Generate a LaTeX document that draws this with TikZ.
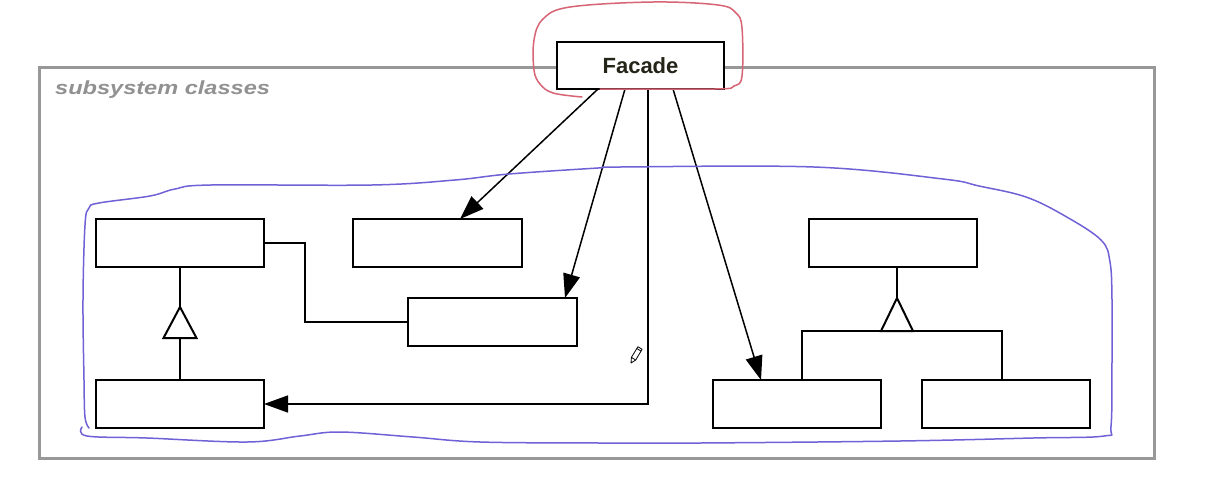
\documentclass[tikz,border=0pt]{standalone}
\usepackage{fontspec}
\setmainfont{Liberation Sans}
\usetikzlibrary{arrows.meta,calc}
\definecolor{framegray}{RGB}{152,152,152}
\definecolor{labelgray}{RGB}{145,145,145}
\definecolor{loopred}{RGB}{214,100,116}
\definecolor{loopblue}{RGB}{112,98,214}
\definecolor{facadetext}{RGB}{36,36,24}
\begin{document}
\begin{tikzpicture}[x=1pt,y=-1pt,
  cls/.style={draw=black, line width=2pt, fill=white, inner sep=0pt, outer sep=0pt,
              minimum width=168pt, minimum height=48pt},
  arr/.style={line width=1.5pt, -{Triangle[length=24pt,width=17pt]}},
  conn/.style={line width=2pt},
  ink/.style={line width=1.5pt, line cap=round, line join=round}]
\useasboundingbox (0,0) rectangle (1209,482);
\fill[white] (0,0) rectangle (1209,482);

% subsystem frame
\draw[framegray, line width=3pt] (39,67) rectangle (1154,458);
\node[anchor=base west, inner sep=0pt, text=labelgray,
      font=\fontsize{19}{19}\selectfont\bfseries\itshape] (lbl) at (55,94)
      {\scalebox{1.24}[1]{subsystem classes}};

% classes
\node[cls] (A) at (180,243) {};
\node[cls, minimum width=169pt] (B) at (437.5,243) {};
\node[cls, minimum width=169pt] (C) at (492.5,322) {};
\node[cls] (D) at (180,404) {};
\node[cls] (E) at (893,243) {};
\node[cls] (F) at (797,404) {};
\node[cls] (G) at (1006,404) {};

% association A -- C
\draw[conn] (A.east) -- ++(41,0) |- (C.west);

% generalization left
\coordinate (t1a) at ($(A.south)+(0,40)$);
\coordinate (t1b) at ($(A.south)+(0,71)$);
\draw[conn] (A.south) -- (t1a);
\draw[conn, line join=miter] (t1a) -- ++(-16.5,31) -- ++(33,0) -- cycle;
\draw[conn] (t1b) -- (D.north);

% generalization right
\coordinate (t2a) at ($(E.south)+(4,31)$);
\coordinate (t2b) at ($(E.south)+(4,64)$);
\draw[conn] ($(E.south)+(4,0)$) -- (t2a);
\draw[conn, line join=miter] (t2a) -- ++(-16,33) -- ++(32,0) -- cycle;
\draw[conn] ($(F.north)+(5,0)$) |- (t2b) -| ($(G.north)+(-4,0)$);

% facade
\node[cls, minimum width=167pt, minimum height=47pt, text=facadetext,
      font=\fontsize{22}{22}\selectfont\bfseries] (Fac) at (640.5,65.5) {Facade};

% facade arrows
\draw[arr] ($(Fac.south)+(-42.5,0)$) -- ($(B.north)+(22.5,0)$);
\draw[arr] ($(Fac.south)+(-15.5,0)$) -- ($(C.north)+(72.5,0)$);
\draw[arr] ($(Fac.south)+(32.5,0)$) -- ($(F.north)+(-36,0)$);
\draw[arr] ($(Fac.south)+(7.5,0)$) |- (D.east);

% pencil cursor
\draw[line width=0.8pt, line join=round, fill=white]
  (631,363) -- (635.7,360) -- (642.1,349.3) -- (637.9,346.7) -- (631.4,357.4) -- cycle;
\draw[line width=0.8pt] (635.7,360) -- (631.4,357.4);
\draw[line width=0.8pt] (641,351.1) -- (636.8,348.5);

% blue hand-drawn loop
\draw[loopblue, ink] plot[smooth, tension=0.6] coordinates {
  (82,427) (87,436) (147,438) (247,442) (300,436) (340,432)
  (413,437) (480,442) (600,443) (700,443) (900,441) (1033,438) (1104,436)
  (1111,426) (1112,360) (1112,300) (1110,262) (1101,240) (1065,216)
  (1026,197) (979,186) (943,179) (814,167) (620,167) (598,168) (509,174)
  (455,180) (372,185) (211,185) (175,189) (150,196) (99,203) (89,208)
  (85,225) (83,300) (84,380) (85,417) (89,428)};

% red hand-drawn loop
\draw[loopred, ink] plot[smooth, tension=0.6] coordinates {
  (582,97) (553,93) (540,84) (534,70) (534,40) (543,19) (570,7)
  (653,2) (718,5) (736,13) (742,28) (742,76) (734,86) (715,89) (600,89)};
\end{tikzpicture}
\end{document}
